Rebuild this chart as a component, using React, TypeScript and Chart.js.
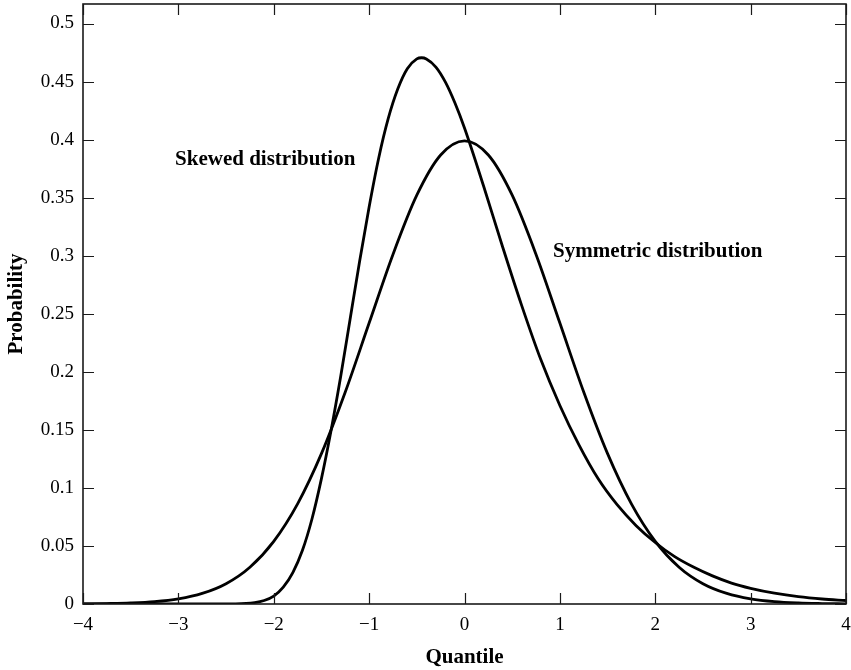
import React, { useEffect, useRef } from 'react';
import { Chart, registerables } from 'chart.js';

Chart.register(...registerables);

// ---- data ----
const X_TICKS = [-4, -3, -2, -1, 0, 1, 2, 3, 4];
const X_TICK_LABELS = ['\u22124', '\u22123', '\u22122', '\u22121', '0', '1', '2', '3', '4'];
const Y_TICKS = [0, 0.05, 0.1, 0.15, 0.2, 0.25, 0.3, 0.35, 0.4, 0.45, 0.5];
const Y_TICK_LABELS = ['0', '0.05', '0.1', '0.15', '0.2', '0.25', '0.3', '0.35', '0.4', '0.45', '0.5'];

const X_TITLE = 'Quantile';
const Y_TITLE = 'Probability';

const SYM_X = [
  -4, -3.75, -3.5, -3.25, -3, -2.75, -2.5, -2.25, -2, -1.75, -1.5, -1.25, -1, -0.75, -0.5, -0.25, 0,
  0.25, 0.5, 0.75, 1, 1.25, 1.5, 1.75, 2, 2.25, 2.5, 2.75, 3, 3.25, 3.5, 3.75, 4,
];
const SYM_Y = [
  0.0001, 0.0004, 0.0009, 0.002, 0.0044, 0.0091, 0.0175, 0.0317, 0.054, 0.0863, 0.1295, 0.1826, 0.242,
  0.3011, 0.3521, 0.3867, 0.3989, 0.3867, 0.3521, 0.3011, 0.242, 0.1826, 0.1295, 0.0863, 0.054, 0.0317,
  0.0175, 0.0091, 0.0044, 0.002, 0.0009, 0.0004, 0.0001,
];

const SKEW_X = [
  -4, -3, -2.6, -2.4, -2.2, -2.1, -2.0, -1.9, -1.8, -1.7, -1.6, -1.5, -1.4, -1.3, -1.2, -1.1, -1.0, -0.9,
  -0.8, -0.7, -0.6, -0.5, -0.45, -0.4, -0.3, -0.2, -0.1, 0, 0.2, 0.4, 0.6, 0.8, 1.0, 1.2, 1.4, 1.6, 1.8,
  2.0, 2.2, 2.4, 2.6, 2.8, 3.0, 3.25, 3.5, 3.75, 4.0,
];
const SKEW_Y = [
  0, 0, 0, 0.0001, 0.0012, 0.003, 0.0068, 0.0145, 0.027, 0.046, 0.073, 0.108, 0.149, 0.195, 0.245, 0.295,
  0.342, 0.384, 0.418, 0.4435, 0.461, 0.4695, 0.4705, 0.4695, 0.4625, 0.4495, 0.4315, 0.41, 0.36, 0.3075,
  0.257, 0.2105, 0.171, 0.137, 0.108, 0.0855, 0.0675, 0.053, 0.041, 0.0318, 0.0242, 0.018, 0.0135, 0.0093,
  0.0063, 0.0043, 0.003,
];

const LABEL_TEXTS = ['Skewed distribution', 'Symmetric distribution'];
const LABEL_X = [-3.035, 0.928];
const LABEL_Y = [0.378, 0.299];

const SERIF = "'Liberation Serif', 'Times New Roman', 'DejaVu Serif', serif";

const framePlugin = {
  id: 'frame',
  afterDatasetsDraw(chart: any) {
    const { ctx, chartArea } = chart;
    const { left, top, right, bottom } = chartArea;
    const xs = chart.scales.x;
    const ys = chart.scales.y;
    const TL = 11;
    ctx.save();
    ctx.strokeStyle = '#1a1a1a';
    ctx.lineWidth = 1.6;
    ctx.strokeRect(left, top, right - left, bottom - top);
    ctx.beginPath();
    X_TICKS.forEach((v) => {
      const px = Math.round(xs.getPixelForValue(v)) + 0.5;
      ctx.moveTo(px, bottom);
      ctx.lineTo(px, bottom - TL);
      ctx.moveTo(px, top);
      ctx.lineTo(px, top + TL);
    });
    Y_TICKS.forEach((v) => {
      const py = Math.round(ys.getPixelForValue(v)) + 0.5;
      ctx.moveTo(left, py);
      ctx.lineTo(left + TL, py);
      ctx.moveTo(right, py);
      ctx.lineTo(right - TL, py);
    });
    ctx.lineWidth = 1.2;
    ctx.stroke();

    ctx.fillStyle = '#000';
    ctx.font = `bold 21px ${SERIF}`;
    ctx.textAlign = 'left';
    ctx.textBaseline = 'alphabetic';
    LABEL_TEXTS.forEach((t, i) => {
      ctx.fillText(t, xs.getPixelForValue(LABEL_X[i]), ys.getPixelForValue(LABEL_Y[i]));
    });
    ctx.restore();
  },
};

export default function App() {
  const ref = useRef<HTMLCanvasElement | null>(null);

  useEffect(() => {
    if (!ref.current) return;
    const chart = new Chart(ref.current, {
      type: 'line',
      data: {
        datasets: [
          {
            label: 'Symmetric distribution',
            data: SYM_X.map((x, i) => ({ x, y: SYM_Y[i] })),
            borderColor: '#000',
            borderWidth: 2.8,
            pointRadius: 0,
            cubicInterpolationMode: 'monotone',
            fill: false,
          },
          {
            label: 'Skewed distribution',
            data: SKEW_X.map((x, i) => ({ x, y: SKEW_Y[i] })),
            borderColor: '#000',
            borderWidth: 2.8,
            pointRadius: 0,
            cubicInterpolationMode: 'monotone',
            fill: false,
          },
        ],
      },
      options: {
        responsive: false,
        animation: false,
        devicePixelRatio: 1,
        layout: { padding: { top: 4, right: 5, bottom: 0, left: 0 } },
        plugins: {
          legend: { display: false },
          tooltip: { enabled: false },
        },
        scales: {
          x: {
            type: 'linear',
            min: -4,
            max: 4,
            afterBuildTicks: (s: any) => {
              s.ticks = X_TICKS.map((v) => ({ value: v }));
            },
            afterFit: (s: any) => {
              s.height = 66;
              s.paddingLeft = 0;
              s.paddingRight = 0;
              s.paddingTop = 0;
              s.paddingBottom = 0;
            },
            ticks: {
              callback: (_v: any, i: number) => X_TICK_LABELS[i],
              font: { family: SERIF, size: 19 },
              color: '#000',
              padding: 10,
              maxRotation: 0,
              autoSkip: false,
            },
            grid: { display: false, drawTicks: false },
            border: { display: false },
            title: {
              display: true,
              text: X_TITLE,
              color: '#000',
              font: { family: SERIF, size: 21, weight: 'bold' },
              padding: { top: 0, bottom: 0 },
            },
          },
          y: {
            type: 'linear',
            min: 0,
            max: 0.5168,
            afterBuildTicks: (s: any) => {
              s.ticks = Y_TICKS.map((v) => ({ value: v }));
            },
            afterFit: (s: any) => {
              s.width = 83;
              s.paddingLeft = 0;
              s.paddingRight = 0;
              s.paddingTop = 0;
              s.paddingBottom = 0;
            },
            ticks: {
              callback: (_v: any, i: number) => Y_TICK_LABELS[i],
              font: { family: SERIF, size: 19 },
              color: '#000',
              padding: 9,
              autoSkip: false,
            },
            grid: { display: false, drawTicks: false },
            border: { display: false },
            title: {
              display: true,
              text: Y_TITLE,
              color: '#000',
              font: { family: SERIF, size: 21, weight: 'bold' },
              padding: { top: 4, bottom: 0 },
            },
          },
        },
      },
      plugins: [framePlugin],
    } as any);
    return () => chart.destroy();
  }, []);

  return (
    <div style={{ position: 'fixed', left: 0, top: 0, width: 851, height: 670, background: '#fff' }}>
      <canvas ref={ref} width={851} height={670} />
    </div>
  );
}
